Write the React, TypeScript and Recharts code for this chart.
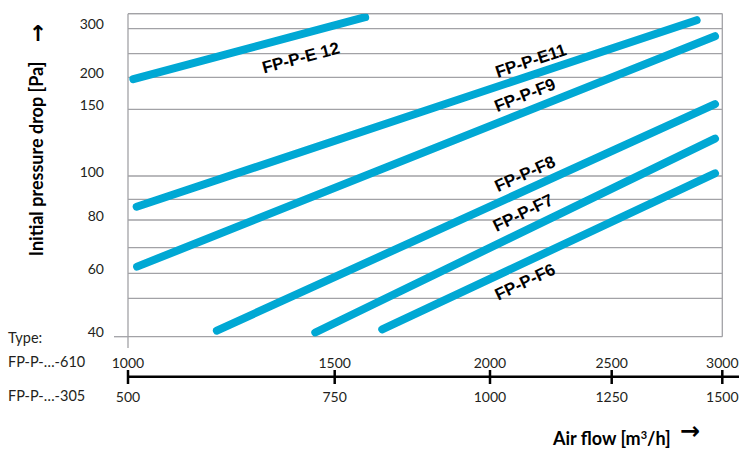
import React from "react";
import {
  LineChart,
  Line,
  XAxis,
  YAxis,
  CartesianGrid,
  ReferenceLine,
  ReferenceDot,
} from "recharts";

// filter classes, each drawn as a straight band from its first to its last reading
const filterTypes = ["FP-P-E 12", "FP-P-E11", "FP-P-F9", "FP-P-F8", "FP-P-F7", "FP-P-F6"];
const flowStart = [1013, 1021, 1022, 1215, 1453, 1653]; // m3/h (-610 size)
const flowEnd = [1598, 2884, 2967, 2967, 2967, 2967];
const dropStart = [197, 86.4, 62.6, 41.6, 41.1, 41.9]; // Pa
const dropEnd = [323, 317, 285, 158, 128, 102];

// where the curve names sit (flow, drop)
const labelFlow = [1418, 2168, 2144, 2144, 2136, 2144];
const labelDrop = [241, 234.5, 172, 101.5, 83.4, 56.5];

const flowTicks = [1000, 1500, 2000, 2500, 3000];
const flowTicksHalf = [500, 750, 1000, 1250, 1500];
const dropLabels = [40, 60, 80, 100, 150, 200, 300];
const dropGrid = [40, 50, 60, 70, 80, 90, 100, 150, 200, 250, 300];

// the printed axes are not evenly divided, so each tick's distance from the origin is kept
const flowTickOffsets = [0, 206.7, 362, 483.7, 594.3];
const dropGridOffsets = [0, 38.4, 63.4, 89, 116.7, 137.4, 160.7, 227.4, 259.4, 283, 308];

const X_SPAN = 594.3;
const Y_SPAN = 323;
const GRID = "#a2a2a6";
const BLUE = "#00a8d4";
const INK = "#231f20";

function piecewise(v: number, vals: number[], pos: number[]) {
  let i = 0;
  while (i < vals.length - 2 && v > vals[i + 1]) i++;
  const t = (v - vals[i]) / (vals[i + 1] - vals[i]);
  return pos[i] + t * (pos[i + 1] - pos[i]);
}
const fx = (v: number) => piecewise(v, flowTicks, flowTickOffsets);
const fy = (v: number) => piecewise(v, dropGrid, dropGridOffsets);

const seriesData = filterTypes.map((name, i) => ({
  name,
  points: [
    { x: fx(flowStart[i]), y: fy(dropStart[i]) },
    { x: fx(flowEnd[i]), y: fy(dropEnd[i]) },
  ],
  angle:
    (-Math.atan2(fy(dropEnd[i]) - fy(dropStart[i]), fx(flowEnd[i]) - fx(flowStart[i])) * 180) /
    Math.PI,
}));

const yTickPos = dropGrid.map(fy);
const xTickPos = flowTicks.map(fx);

function findIndex(arr: number[], v: number) {
  return arr.findIndex((a) => Math.abs(a - v) < 0.01);
}

const YTick = (props: any) => {
  const { y, payload } = props;
  const v = dropGrid[findIndex(yTickPos, payload.value)];
  return (
    <g>
      {v === 40 && <line x1={114} x2={128} y1={y} y2={y} stroke={GRID} strokeWidth={1.3} />}
      {dropLabels.includes(v) && (
        <text
          x={104}
          y={y - 5}
          textAnchor="end"
          dominantBaseline="central"
          fontFamily="Lato"
          fontSize={14}
          fill={INK}
        >
          {v}
        </text>
      )}
    </g>
  );
};

const XTick = (props: any) => {
  const { x, payload } = props;
  const i = findIndex(xTickPos, payload.value);
  const label = { textAnchor: "middle", dominantBaseline: "central", fontFamily: "Lato", fontSize: 14, fill: INK } as const;
  return (
    <g>
      {i === 0 && (
        <>
          <line x1={x} x2={x} y1={336.7} y2={348} stroke={GRID} strokeWidth={1.3} />
          <line x1={x} x2={739} y1={376.7} y2={376.7} stroke="#000" strokeWidth={2.5} />
        </>
      )}
      <line x1={x} x2={x} y1={370} y2={384} stroke="#000" strokeWidth={2.5} />
      <text x={x} y={362} {...label}>
        {flowTicks[i]}
      </text>
      <text x={x} y={396} {...label}>
        {flowTicksHalf[i]}
      </text>
    </g>
  );
};

export default function App() {
  return (
    <div style={{ position: "absolute", left: 0, top: 0, width: 739, height: 449 }}>
      <LineChart
        width={739}
        height={449}
        margin={{ top: 13.7, right: 16.7, bottom: 0, left: 0 }}
      >
        <CartesianGrid vertical={false} stroke={GRID} strokeWidth={1.3} />
        <XAxis
          type="number"
          dataKey="x"
          domain={[0, X_SPAN]}
          ticks={xTickPos}
          interval={0}
          allowDataOverflow
          height={112.3}
          axisLine={false}
          tickLine={false}
          tick={<XTick />}
        />
        <YAxis
          type="number"
          domain={[0, Y_SPAN]}
          ticks={yTickPos}
          interval={0}
          allowDataOverflow
          width={128}
          axisLine={{ stroke: GRID, strokeWidth: 1.3 }}
          tickLine={false}
          tick={<YTick />}
        />
        <ReferenceLine y={Y_SPAN} stroke={GRID} strokeWidth={1.3} />
        <ReferenceLine x={X_SPAN} stroke={GRID} strokeWidth={1.3} />
        {seriesData.map((s) => (
          <Line
            key={s.name}
            data={s.points}
            dataKey="y"
            type="linear"
            stroke={BLUE}
            strokeWidth={8}
            strokeLinecap="round"
            dot={false}
            activeDot={false}
            isAnimationActive={false}
          />
        ))}
        {seriesData.map((s, i) => (
          <ReferenceDot
            key={"lbl" + s.name}
            x={fx(labelFlow[i])}
            y={fy(labelDrop[i])}
            r={0}
            ifOverflow="visible"
            shape={(p: any) => (
              <text
                x={p.cx}
                y={p.cy}
                transform={`rotate(${s.angle}, ${p.cx}, ${p.cy})`}
                textAnchor="middle"
                dominantBaseline="central"
                fontFamily="Liberation Sans"
                fontWeight="bold"
                fontSize={17}
                fill="#000"
              >
                {s.name}
              </text>
            )}
          />
        ))}
      </LineChart>
      <svg
        width={739}
        height={449}
        style={{ position: "absolute", left: 0, top: 0, pointerEvents: "none" }}
      >
        <text
          x={36}
          y={159}
          transform="rotate(-90, 36, 159)"
          textAnchor="middle"
          dominantBaseline="central"
          fontFamily="Lato"
          fontWeight="bold"
          fontSize={18}
          fill="#000"
        >
          Initial pressure drop [Pa]
        </text>
        <text
          x={38}
          y={33}
          textAnchor="middle"
          dominantBaseline="central"
          fontFamily="DejaVu Sans"
          fontWeight="bold"
          fontSize={22}
          fill="#000"
        >
          ↑
        </text>
        <g fontFamily="Lato" fontSize={14.5} fill={INK} dominantBaseline="central">
          <text x={8} y={337}>Type:</text>
          <text x={8} y={361}>FP-P-…-610</text>
          <text x={8} y={395}>FP-P-…-305</text>
        </g>
        <text x={553} y={445} fontFamily="Lato" fontWeight="bold" fontSize={18} fill="#000">
          Air flow [m<tspan dy={-6} fontSize={11}>3</tspan>
          <tspan dy={6}>/h]</tspan>
        </text>
        <text
          x={690}
          y={431}
          textAnchor="middle"
          dominantBaseline="central"
          fontFamily="DejaVu Sans"
          fontWeight="bold"
          fontSize={24}
          fill="#000"
        >
          →
        </text>
      </svg>
    </div>
  );
}
